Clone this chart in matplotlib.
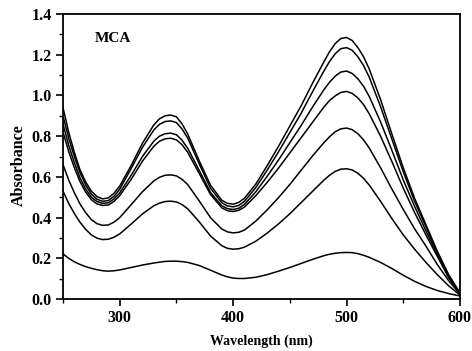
import numpy as np
import matplotlib
matplotlib.use("Agg")
import matplotlib.pyplot as plt
from matplotlib.ticker import MultipleLocator, FormatStrFormatter

# wavelength grid (nm) and absorbance spectra
wavelength = [250, 255, 260, 265, 270, 275, 280, 285, 290, 295, 300,
              310, 320, 330, 335, 340, 345, 350, 355, 360,
              370, 380, 390, 395, 400, 405, 410,
              420, 430, 440, 450, 460, 470, 480, 485, 490, 495, 500, 505, 510, 515, 520,
              530, 540, 550, 560, 570, 580, 590, 600]

abs_1 = [0.94, 0.82, 0.72, 0.635, 0.575, 0.53, 0.503, 0.492, 0.497, 0.52, 0.555,
         0.655, 0.765, 0.855, 0.885, 0.90, 0.904, 0.895, 0.86, 0.81,
         0.68, 0.56, 0.485, 0.47, 0.466, 0.475, 0.495,
         0.565, 0.655, 0.75, 0.85, 0.95, 1.06, 1.165, 1.215, 1.255, 1.28, 1.285, 1.27, 1.235, 1.19, 1.13,
         0.98, 0.81, 0.645, 0.495, 0.365, 0.235, 0.12, 0.03]
abs_2 = [0.90, 0.79, 0.70, 0.62, 0.56, 0.515, 0.49, 0.48, 0.484, 0.505, 0.54,
         0.64, 0.745, 0.83, 0.858, 0.872, 0.875, 0.867, 0.835, 0.79,
         0.665, 0.545, 0.473, 0.457, 0.453, 0.46, 0.48,
         0.548, 0.633, 0.723, 0.818, 0.913, 1.018, 1.12, 1.167, 1.205, 1.23, 1.235, 1.222, 1.19, 1.147, 1.09,
         0.945, 0.785, 0.625, 0.48, 0.355, 0.23, 0.115, 0.03]
abs_3 = [0.86, 0.755, 0.67, 0.595, 0.54, 0.50, 0.479, 0.47, 0.473, 0.492, 0.522,
         0.607, 0.70, 0.775, 0.80, 0.812, 0.815, 0.807, 0.78, 0.74,
         0.633, 0.524, 0.458, 0.444, 0.44, 0.446, 0.465,
         0.527, 0.603, 0.683, 0.768, 0.853, 0.943, 1.028, 1.065, 1.095, 1.115, 1.12, 1.108, 1.082, 1.045, 0.995,
         0.87, 0.73, 0.585, 0.455, 0.335, 0.22, 0.11, 0.028]
abs_4 = [0.82, 0.725, 0.645, 0.577, 0.525, 0.488, 0.467, 0.46, 0.462, 0.48, 0.508,
         0.587, 0.677, 0.75, 0.775, 0.787, 0.79, 0.782, 0.758, 0.72,
         0.618, 0.514, 0.448, 0.434, 0.43, 0.436, 0.452,
         0.508, 0.573, 0.643, 0.718, 0.793, 0.868, 0.943, 0.975, 0.998, 1.015, 1.02, 1.01, 0.988, 0.955, 0.91,
         0.80, 0.675, 0.545, 0.425, 0.315, 0.21, 0.105, 0.027]
abs_5 = [0.66, 0.585, 0.522, 0.467, 0.424, 0.39, 0.37, 0.362, 0.364, 0.378, 0.40,
         0.463, 0.527, 0.58, 0.598, 0.608, 0.61, 0.605, 0.588, 0.562,
         0.483, 0.40, 0.344, 0.33, 0.325, 0.328, 0.339,
         0.383, 0.438, 0.498, 0.563, 0.633, 0.703, 0.768, 0.797, 0.822, 0.836, 0.84, 0.832, 0.812, 0.782, 0.742,
         0.645, 0.54, 0.44, 0.345, 0.26, 0.17, 0.09, 0.025]
abs_6 = [0.53, 0.47, 0.42, 0.377, 0.342, 0.315, 0.299, 0.292, 0.294, 0.304, 0.32,
         0.368, 0.418, 0.458, 0.471, 0.479, 0.481, 0.477, 0.464, 0.443,
         0.38, 0.31, 0.262, 0.249, 0.245, 0.247, 0.255,
         0.284, 0.324, 0.369, 0.419, 0.474, 0.529, 0.584, 0.608, 0.627, 0.638, 0.64, 0.634, 0.618, 0.593, 0.56,
         0.48, 0.395, 0.315, 0.245, 0.18, 0.12, 0.065, 0.02]
abs_7 = [0.222, 0.20, 0.183, 0.17, 0.159, 0.151, 0.144, 0.139, 0.137, 0.139, 0.143,
         0.155, 0.167, 0.177, 0.181, 0.185, 0.186, 0.186, 0.184, 0.18,
         0.165, 0.142, 0.118, 0.109, 0.103, 0.101, 0.101,
         0.107, 0.12, 0.137, 0.155, 0.175, 0.195, 0.213, 0.22, 0.225, 0.228, 0.229, 0.228, 0.223, 0.215, 0.205,
         0.18, 0.15, 0.117, 0.087, 0.062, 0.042, 0.027, 0.015]

spectra = [abs_1, abs_2, abs_3, abs_4, abs_5, abs_6, abs_7]

plt.rcParams["font.family"] = ["Liberation Serif", "DejaVu Serif"]
plt.rcParams["font.weight"] = "bold"

fig = plt.figure(figsize=(4.72, 3.51), dpi=100)
ax = fig.add_axes([0.1335, 0.148, 0.841, 0.812])

for s in spectra:
    ax.plot(wavelength, s, color="black", lw=1.1, solid_joinstyle="round")

ax.set_xlim(250, 600)
ax.set_ylim(0, 1.4)
ax.xaxis.set_major_locator(MultipleLocator(100))
ax.xaxis.set_minor_locator(MultipleLocator(50))
ax.yaxis.set_major_locator(MultipleLocator(0.2))
ax.yaxis.set_minor_locator(MultipleLocator(0.1))
ax.yaxis.set_major_formatter(FormatStrFormatter("%.1f"))
ax.tick_params(which="major", direction="out", length=5, width=1.2, labelsize=11.5, pad=3)
ax.tick_params(which="minor", direction="out", length=3, width=1.0)
for sp in ax.spines.values():
    sp.set_linewidth(1.3)

ax.set_xlabel("Wavelength (nm)", fontsize=10, fontweight="bold", labelpad=6)
ax.set_ylabel("Absorbance", fontsize=11.5, fontweight="bold")
ax.yaxis.set_label_coords(-0.091, 0.47)
ax.text(278, 1.28, "MCA", fontsize=11, fontweight="bold", va="center")

fig.savefig("out.png", dpi=100)
